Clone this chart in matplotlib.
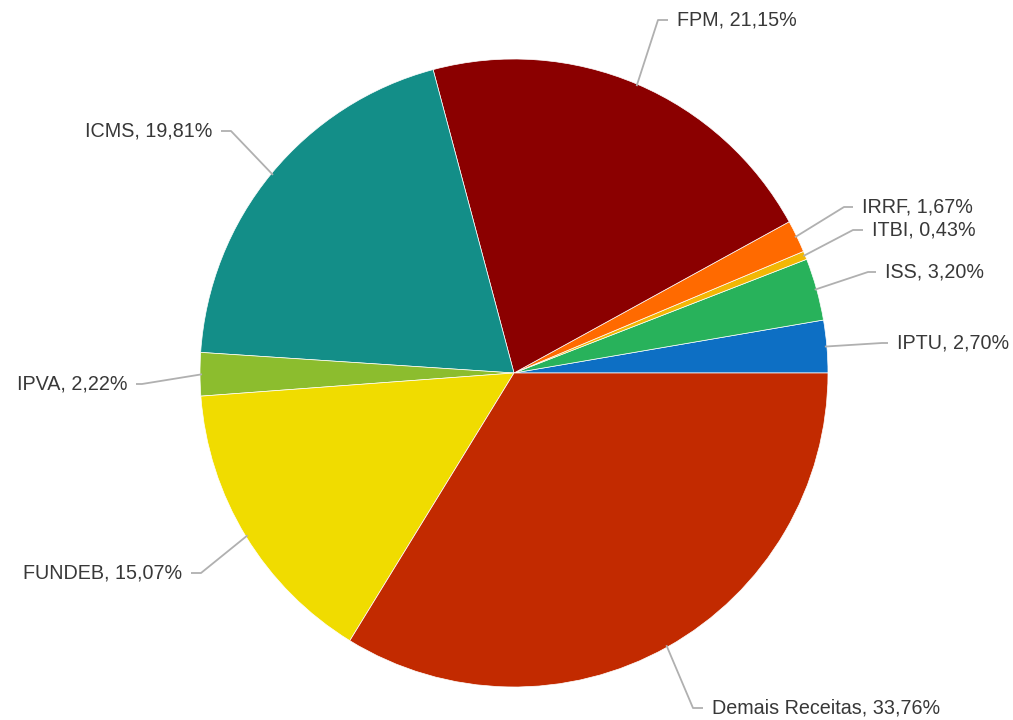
import numpy as np
import matplotlib
matplotlib.use("Agg")
import matplotlib.pyplot as plt

# dados (sentido anti-horario a partir das 3h)
categorias = ["IPTU", "ISS", "ITBI", "IRRF", "FPM", "ICMS", "IPVA", "FUNDEB", "Demais Receitas"]
percentuais = [2.70, 3.20, 0.43, 1.67, 21.15, 19.81, 2.22, 15.07, 33.76]
cores = ["#0d6fc4", "#28b25b", "#f2b705", "#ff6a00", "#8b0000",
         "#138e88", "#8cbd2e", "#f0dc00", "#c22a00"]

W, H = 1013, 720
cx, cy, r = 514, H - 373, 314

# posicao do rotulo (x, y em pixels a partir do topo), alinhamento, cotovelo da linha
layout = {
    "IPTU": (897, 343, "left", 882),
    "ISS": (885, 272, "left", 868),
    "ITBI": (872, 230, "left", 853),
    "IRRF": (862, 207, "left", 844),
    "FPM": (677, 20, "left", 658),
    "ICMS": (212, 131, "right", 231),
    "IPVA": (127, 384, "right", 142),
    "FUNDEB": (182, 573, "right", 201),
    "Demais Receitas": (712, 708, "left", 693),
}

fig = plt.figure(figsize=(W / 100, H / 100), dpi=100)
ax = fig.add_axes([0, 0, 1, 1])

wedges, _ = ax.pie(percentuais, colors=cores, startangle=0, counterclock=True,
                   center=(cx, cy), radius=r, normalize=True,
                   wedgeprops=dict(edgecolor="white", linewidth=0.5))

for w, nome, p in zip(wedges, categorias, percentuais):
    ang = np.deg2rad((w.theta1 + w.theta2) / 2)
    x0 = cx + (r - 2) * np.cos(ang)
    y0 = cy + (r - 2) * np.sin(ang)
    tx, ty, ha, kx = layout[nome]
    ty = H - ty
    gap = 9 if ha == "left" else -9
    ax.plot([x0, kx, tx - gap], [y0, ty, ty], color="#b0b0b0", lw=1.3,
            solid_capstyle="butt")
    rotulo = f"{nome}, {p:.2f}%".replace(".", ",")
    ax.text(tx, ty, rotulo, ha=ha, va="center", fontsize=14.2,
            color="#383838", family="Liberation Sans")

ax.set_xlim(0, W)
ax.set_ylim(0, H)
ax.set_aspect("equal")
ax.axis("off")

fig.savefig("out.png", dpi=100, facecolor="white")
